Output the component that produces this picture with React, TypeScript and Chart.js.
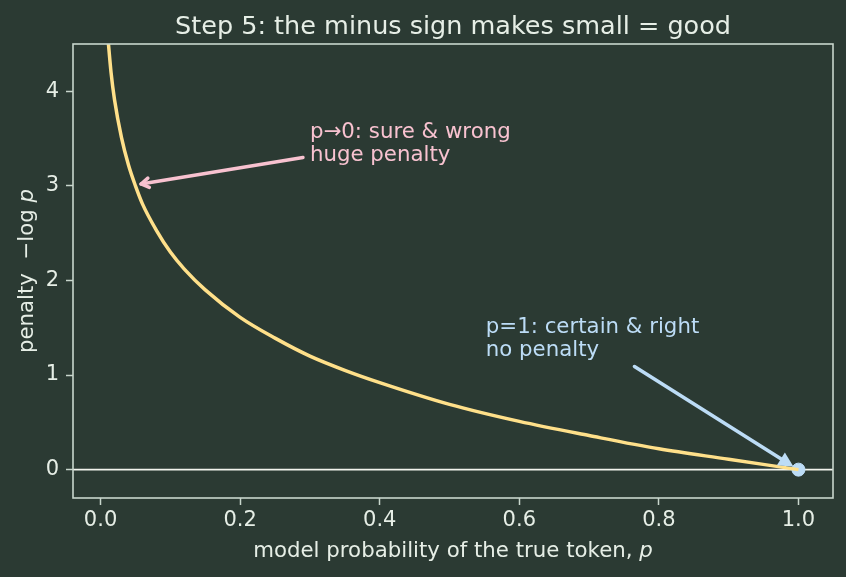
import React, { useEffect, useRef } from "react";
import { Chart, registerables } from "chart.js";

Chart.register(...registerables);

// ---- data ----
const probabilities = [0.01, 0.015, 0.02, 0.03, 0.04, 0.05, 0.06, 0.08, 0.1, 0.12, 0.15, 0.2, 0.25, 0.3, 0.35, 0.4, 0.5, 0.6, 0.7, 0.8, 0.9, 1.0];
const penalties = [4.61, 4.2, 3.91, 3.51, 3.22, 3.0, 2.81, 2.53, 2.3, 2.12, 1.9, 1.61, 1.39, 1.2, 1.05, 0.92, 0.69, 0.51, 0.36, 0.22, 0.11, 0.0];
const markerP = [1.0];
const markerPenalty = [0.0];
const xTicks = [0.0, 0.2, 0.4, 0.6, 0.8, 1.0];
const yTicks = [0, 1, 2, 3, 4];
const xRange = [-0.0395, 1.0495];
const yRange = [-0.3, 4.5];
const titleText = "Step 5: the minus sign makes small = good";
const xLabel = "model probability of the true token, ";
const yLabel = "penalty  \u2212log ";
const pinkLines = ["p\u21920: sure & wrong", "huge penalty"];
const pinkText = [0.3, 3.51];
const pinkArrowFrom = [0.29, 3.3];
const pinkArrowTo = [0.058, 3.02];
const blueLines = ["p=1: certain & right", "no penalty"];
const blueText = [0.552, 1.44];
const blueArrowFrom = [0.765, 1.09];
const blueArrowTo = [0.993, 0.03];

const C = {
  bg: "#2b3a33",
  fg: "#e6eee6",
  spine: "#c8d6cc",
  zero: "#f2f4ee",
  curve: "#ffe08a",
  pink: "#f8c2d0",
  blue: "#bcdcf6",
};
const FONT = "'DejaVu Sans', 'Liberation Sans', sans-serif";

function drawRich(ctx: CanvasRenderingContext2D, segs: { t: string; italic?: boolean }[], x: number, y: number, size: number) {
  const widths = segs.map((s) => {
    ctx.font = `${s.italic ? "italic " : ""}${size}px ${FONT}`;
    return ctx.measureText(s.t).width;
  });
  const total = widths.reduce((a, b) => a + b, 0);
  let cx = x - total / 2;
  ctx.textAlign = "left";
  segs.forEach((s, i) => {
    ctx.font = `${s.italic ? "italic " : ""}${size}px ${FONT}`;
    ctx.fillText(s.t, cx, y);
    cx += widths[i];
  });
}

function arrow(ctx: CanvasRenderingContext2D, x1: number, y1: number, x2: number, y2: number, color: string, filled: boolean) {
  const ang = Math.atan2(y2 - y1, x2 - x1);
  ctx.save();
  ctx.strokeStyle = color;
  ctx.fillStyle = color;
  ctx.lineWidth = 3.5;
  ctx.lineCap = "round";
  ctx.lineJoin = "round";
  if (filled) {
    const hl = 15, hw = 7.5;
    const bx = x2 - hl * Math.cos(ang), by = y2 - hl * Math.sin(ang);
    ctx.beginPath();
    ctx.moveTo(x1, y1);
    ctx.lineTo(bx, by);
    ctx.stroke();
    ctx.beginPath();
    ctx.moveTo(x2, y2);
    ctx.lineTo(bx + hw * Math.sin(ang), by - hw * Math.cos(ang));
    ctx.lineTo(bx - hw * Math.sin(ang), by + hw * Math.cos(ang));
    ctx.closePath();
    ctx.fill();
  } else {
    ctx.beginPath();
    ctx.moveTo(x1, y1);
    ctx.lineTo(x2, y2);
    ctx.stroke();
    const hl = 9, spread = 0.55;
    ctx.beginPath();
    ctx.moveTo(x2 - hl * Math.cos(ang - spread), y2 - hl * Math.sin(ang - spread));
    ctx.lineTo(x2, y2);
    ctx.lineTo(x2 - hl * Math.cos(ang + spread), y2 - hl * Math.sin(ang + spread));
    ctx.stroke();
  }
  ctx.restore();
}

const decor = {
  id: "decor",
  beforeDraw(chart: any) {
    const ctx = chart.ctx;
    ctx.save();
    ctx.fillStyle = C.bg;
    ctx.fillRect(0, 0, chart.width, chart.height);
    ctx.restore();
  },
  beforeDatasetsDraw(chart: any) {
    const ctx = chart.ctx;
    const a = chart.chartArea;
    const y0 = chart.scales.y.getPixelForValue(0);
    ctx.save();
    ctx.strokeStyle = C.zero;
    ctx.lineWidth = 1.6;
    ctx.beginPath();
    ctx.moveTo(a.left, y0);
    ctx.lineTo(a.right, y0);
    ctx.stroke();
    ctx.restore();
  },
  afterDraw(chart: any) {
    const ctx = chart.ctx;
    const a = chart.chartArea;
    const xs = chart.scales.x, ys = chart.scales.y;
    const px = (v: number) => xs.getPixelForValue(v);
    const py = (v: number) => ys.getPixelForValue(v);
    ctx.save();
    // spines
    ctx.strokeStyle = C.spine;
    ctx.lineWidth = 1.6;
    ctx.strokeRect(a.left, a.top, a.right - a.left, a.bottom - a.top);
    // title
    ctx.fillStyle = C.fg;
    ctx.textBaseline = "alphabetic";
    ctx.textAlign = "center";
    ctx.font = `25.5px ${FONT}`;
    ctx.fillText(titleText, (a.left + a.right) / 2, 34);
    // x label
    drawRich(ctx, [{ t: xLabel }, { t: "p", italic: true }], (a.left + a.right) / 2, 557, 21.3);
    // y label
    ctx.save();
    ctx.translate(33, (a.top + a.bottom) / 2);
    ctx.rotate(-Math.PI / 2);
    drawRich(ctx, [{ t: yLabel }, { t: "p", italic: true }], 0, 0, 21.3);
    ctx.restore();
    // annotations
    arrow(ctx, px(pinkArrowFrom[0]), py(pinkArrowFrom[1]), px(pinkArrowTo[0]), py(pinkArrowTo[1]), C.pink, false);
    arrow(ctx, px(blueArrowFrom[0]), py(blueArrowFrom[1]), px(blueArrowTo[0]), py(blueArrowTo[1]), C.blue, true);
    ctx.font = `21.3px ${FONT}`;
    ctx.textAlign = "left";
    ctx.fillStyle = C.pink;
    pinkLines.forEach((l, i) => ctx.fillText(l, px(pinkText[0]), py(pinkText[1]) + i * 23));
    ctx.fillStyle = C.blue;
    blueLines.forEach((l, i) => ctx.fillText(l, px(blueText[0]), py(blueText[1]) + i * 23));
    ctx.restore();
  },
};

export default function App() {
  const ref = useRef<HTMLCanvasElement | null>(null);
  useEffect(() => {
    if (!ref.current) return;
    const tickFont = { family: FONT, size: 21 };
    const chart = new Chart(ref.current, {
      type: "line",
      data: {
        datasets: [
          {
            data: probabilities.map((p, i) => ({ x: p, y: penalties[i] })),
            borderColor: C.curve,
            borderWidth: 3.5,
            pointRadius: 0,
            cubicInterpolationMode: "monotone",
            fill: false,
          } as any,
          {
            type: "scatter",
            data: markerP.map((p, i) => ({ x: p, y: markerPenalty[i] })),
            backgroundColor: C.blue,
            borderColor: C.blue,
            pointRadius: 6.5,
            showLine: false,
          } as any,
        ],
      },
      options: {
        animation: false,
        responsive: true,
        maintainAspectRatio: false,
        layout: { padding: { top: 44, right: 13, left: 0, bottom: 0 } },
        plugins: { legend: { display: false }, tooltip: { enabled: false }, title: { display: false } },
        scales: {
          x: {
            type: "linear",
            min: xRange[0],
            max: xRange[1],
            afterBuildTicks: (s: any) => {
              s.ticks = xTicks.map((v) => ({ value: v }));
            },
            afterFit: (s: any) => {
              s.height = 79;
            },
            ticks: { color: C.fg, font: tickFont, padding: 3, maxRotation: 0, autoSkip: false, callback: (v: any) => Number(v).toFixed(1) },
            grid: { display: true, drawOnChartArea: false, drawTicks: true, tickLength: 7, tickWidth: 1.5, tickColor: C.spine, color: C.spine },
            border: { display: false },
          },
          y: {
            type: "linear",
            min: yRange[0],
            max: yRange[1],
            afterBuildTicks: (s: any) => {
              s.ticks = yTicks.map((v) => ({ value: v }));
            },
            afterFit: (s: any) => {
              s.width = 73;
            },
            ticks: { color: C.fg, font: tickFont, padding: 7, autoSkip: false, callback: (v: any) => String(v) },
            grid: { display: true, drawOnChartArea: false, drawTicks: true, tickLength: 7, tickWidth: 1.5, tickColor: C.spine, color: C.spine },
            border: { display: false },
          },
        },
      } as any,
      plugins: [decor],
    });
    return () => chart.destroy();
  }, []);
  return (
    <div style={{ position: "absolute", left: 0, top: 0, width: 846, height: 577, background: C.bg }}>
      <canvas ref={ref} />
    </div>
  );
}
